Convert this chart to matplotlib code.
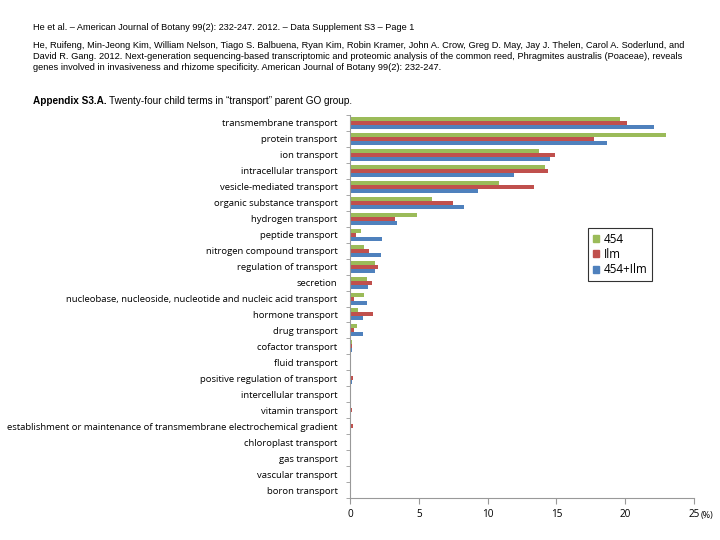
import numpy as np
from matplotlib import pyplot as plt
from matplotlib.patches import Patch

# GO child terms under "transport", top to bottom
terms = [
    "transmembrane transport", "protein transport", "ion transport",
    "intracellular transport", "vesicle-mediated transport",
    "organic substance transport", "hydrogen transport", "peptide transport",
    "nitrogen compound transport", "regulation of transport", "secretion",
    "nucleobase, nucleoside, nucleotide and nucleic acid transport",
    "hormone transport", "drug transport", "cofactor transport",
    "fluid transport", "positive regulation of transport",
    "intercellular transport", "vitamin transport",
    "establishment or maintenance of transmembrane electrochemical gradient",
    "chloroplast transport", "gas transport", "vascular transport",
    "boron transport",
]

# percentages per dataset
pct_454 = [19.6, 23.0, 13.7, 14.2, 10.8, 5.95, 4.9, 0.8, 1.05, 1.8, 1.25, 1.0,
           0.6, 0.5, 0.15, 0.08, 0.1, 0.05, 0.1, 0.05, 0.02, 0.05, 0.0, 0.02]
pct_ilm = [20.1, 17.7, 14.9, 14.4, 13.4, 7.5, 3.3, 0.45, 1.4, 2.0, 1.6, 0.3,
           1.7, 0.3, 0.12, 0.08, 0.2, 0.05, 0.12, 0.2, 0.02, 0.05, 0.0, 0.02]
pct_both = [22.1, 18.7, 14.5, 11.9, 9.3, 8.3, 3.45, 2.3, 2.25, 1.85, 1.3, 1.25,
            0.95, 0.95, 0.15, 0.08, 0.12, 0.08, 0.1, 0.05, 0.02, 0.08, 0.0, 0.02]

series = [("454", pct_454, "#9BBB59"),
          ("Ilm", pct_ilm, "#C0504D"),
          ("454+Ilm", pct_both, "#4F81BD")]

lab_font = "Open Sans"

fig = plt.figure(figsize=(7.2, 5.4), dpi=100)

# page header
fig.text(33 / 720, 1 - 27 / 540,
         "He et al. – American Journal of Botany 99(2): 232-247. 2012. – Data Supplement S3 – Page 1",
         fontsize=6.6, family="Liberation Sans", va="center")
cite = ("He, Ruifeng, Min-Jeong Kim, William Nelson, Tiago S. Balbuena, Ryan Kim, Robin Kramer, John A. Crow, Greg D. May, Jay J. Thelen, Carol A. Soderlund, and\n"
        "David R. Gang. 2012. Next-generation sequencing-based transcriptomic and proteomic analysis of the common reed, Phragmites australis (Poaceae), reveals\n"
        "genes involved in invasiveness and rhizome specificity. American Journal of Botany 99(2): 232-247.")
fig.text(33 / 720, 1 - 41 / 540, cite, fontsize=6.7, family="Liberation Sans",
         va="top", linespacing=1.3)
fig.text(33 / 720, 1 - 101 / 540, "Appendix S3.A.", fontsize=7.2,
         family="Liberation Sans", weight="bold", va="center")
fig.text(109 / 720, 1 - 101 / 540, "Twenty-four child terms in \u201ctransport\u201d parent GO group.",
         fontsize=7.2, family="Liberation Sans", va="center")

ax = fig.add_axes([350 / 720, 1 - 498 / 540, 344 / 720, 383 / 540])

n = len(terms)
y = np.arange(n)
h = 0.25
for i, (name, vals, col) in enumerate(series):
    ax.barh(y + (i - 1) * h, vals, height=h, color=col, label=name)

ax.set_ylim(n - 0.5, -0.5)
ax.set_xlim(0, 25)
ax.set_xticks(range(0, 26, 5))
ax.set_yticks(y)
ax.set_yticklabels(terms)
ax.set_yticks(np.arange(-0.5, n, 1), minor=True)
ax.tick_params(axis="y", which="major", length=0, pad=9, labelsize=6.8)
ax.tick_params(axis="y", which="minor", length=3, color="#999999")
ax.tick_params(axis="x", length=4, color="#999999", labelsize=7.2, pad=4)
for lab in ax.get_yticklabels() + ax.get_xticklabels():
    lab.set_family(lab_font)
for s in ["top", "right"]:
    ax.spines[s].set_visible(False)
for s in ["left", "bottom"]:
    ax.spines[s].set_color("#999999")

ax.text(1.02, -0.035, "(%)", transform=ax.transAxes, fontsize=6.4,
        family=lab_font, va="top")

handles = [Patch(color=c, label=nm) for nm, _, c in series]
leg = ax.legend(handles=handles, loc="upper left",
                bbox_to_anchor=(238 / 344, 1 - 113 / 383), borderaxespad=0,
                prop={"family": lab_font, "size": 8.4},
                handlelength=0.55, handleheight=0.55, handletextpad=0.4,
                fancybox=False, frameon=True, borderpad=0.4, labelspacing=0.2)
leg.get_frame().set_edgecolor("black")
leg.get_frame().set_linewidth(0.8)

fig.savefig("out.png", dpi=100)
